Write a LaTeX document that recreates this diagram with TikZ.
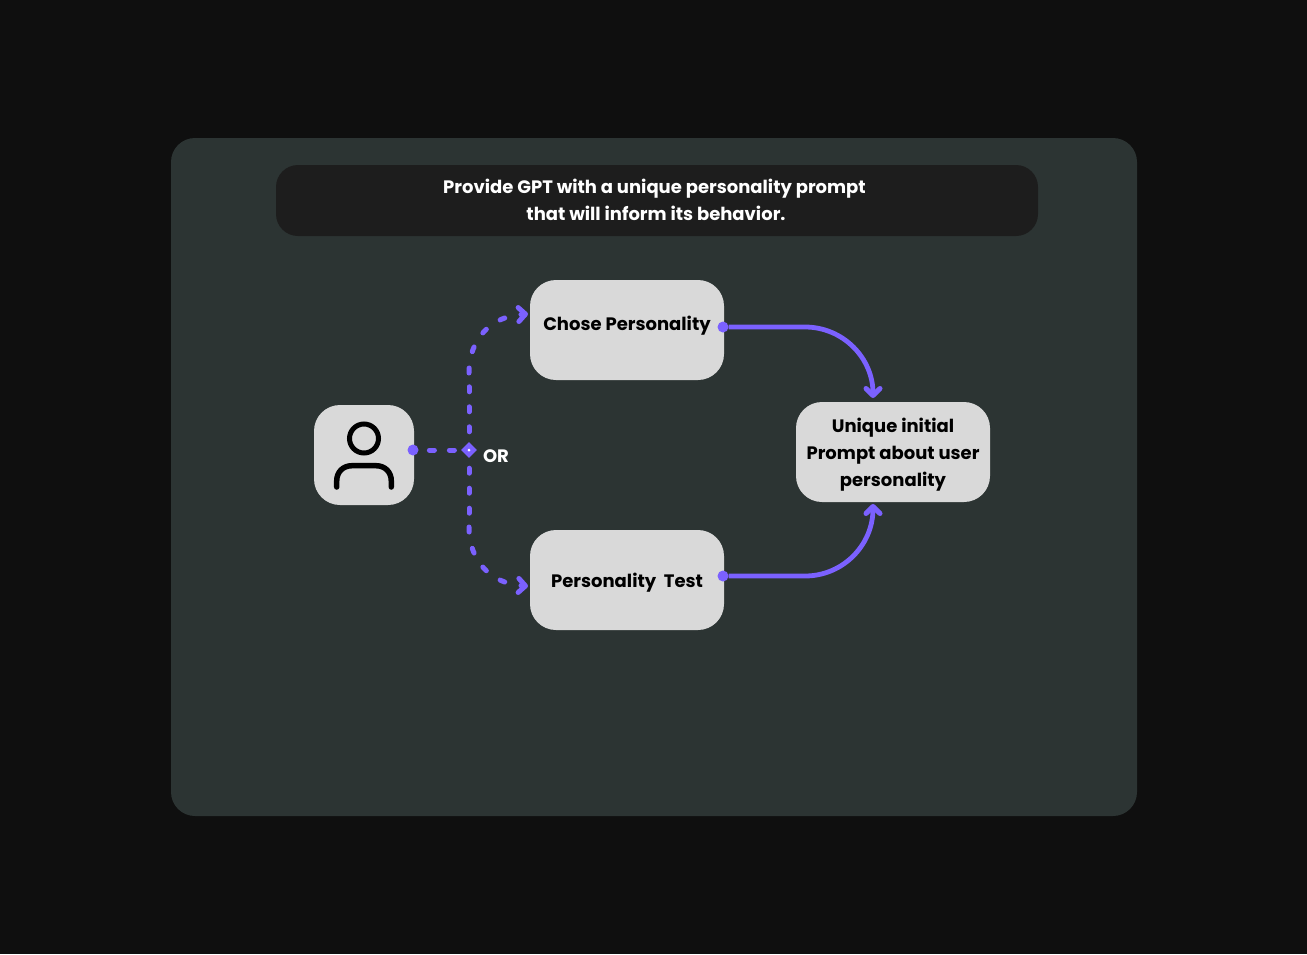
\documentclass[tikz,border=0pt]{standalone}
\usepackage{fontspec}
\setmainfont{Poppins}
\usetikzlibrary{arrows.meta}
\usetikzlibrary{shapes.geometric}
\definecolor{pagebg}{HTML}{0F0F0F}
\definecolor{panelbg}{HTML}{2C3433}
\definecolor{titlebg}{HTML}{1D1D1D}
\definecolor{boxbg}{HTML}{D9D9D9}
\definecolor{linkcol}{HTML}{7B61FF}
\tikzset{
  panelbox/.style={fill=panelbg, rounded corners=24pt, minimum width=966pt, minimum height=678pt},
  titlebox/.style={fill=titlebg, rounded corners=22pt, minimum width=762pt, minimum height=71pt},
  stepbox/.style={fill=boxbg, rounded corners=26pt, minimum width=194pt, minimum height=100pt},
  userbox/.style={fill=boxbg, rounded corners=26pt, minimum size=100pt},
  boldtext/.style={text=black, align=center, font=\fontsize{18}{27}\selectfont\bfseries},
  portdot/.style={circle, fill=linkcol, inner sep=0pt, minimum size=11pt},
  orpoint/.style={diamond, fill=linkcol, inner sep=0pt, minimum size=16pt},
  dashline/.style={draw=linkcol, line width=5pt, line cap=round, dash pattern=on 5pt off 15pt},
  dashcurve/.style={draw=linkcol, line width=5pt, line cap=round, dash pattern=on 5pt off 16.7pt, -{Straight Barb[length=7pt,width=14pt,round,line width=5pt]}},
  solidlink/.style={draw=linkcol, line width=4.8pt, -{Straight Barb[length=7pt,width=14pt,round,line width=5pt]}},
  iconline/.style={draw=black, line width=5.5pt, line cap=round}
}
\begin{document}
\begin{tikzpicture}[x=1pt, y=-1pt]
        \useasboundingbox[fill=pagebg] (0, 0) rectangle (1307, 954);

        % Nodes
        \node[panelbox] (panel) at (654, 477) {};
        \node[titlebox] (title) at (657, 200.5) {};
        \node[boldtext, text=white] (titletext) at (654.5, 199.5) {Provide GPT with a unique personality prompt\\\hspace*{3pt}that will inform its behavior.};
        \node[userbox] (user) at (364, 455) {};
        \node[stepbox] (chose) at (627, 330) {};
        \node[stepbox] (test) at (627, 580) {};
        \node[stepbox] (prompt) at (893, 452) {};
        \node[boldtext] (chosetext) at (627, 326) {Chose Personality};
        \node[boldtext] (testtext) at (627, 583) {Personality\ \ Test};
        \node[boldtext] (prompttext) at (893, 455) {Unique initial\\Prompt about user\\personality};
        \node[text=white, font=\fontsize{18}{20}\selectfont\bfseries] (ortext) at (496, 456) {OR};
        \node[portdot] (userport) at (413, 450) {};
        \node[orpoint] (orjoin) at (469, 450) {};
        \node[circle, fill=white, inner sep=0pt, minimum size=3pt] (orcentre) at (469, 450) {};
        \node[portdot] (choseport) at (723, 327) {};
        \node[portdot] (testport) at (723, 576) {};
        \coordinate (upbend) at (469, 373);
        \coordinate (downbend) at (469, 527);
        \coordinate (chosein) at (528, 314);
        \coordinate (testin) at (528, 586);
        \coordinate (promptup) at (873, 398);
        \coordinate (promptdown) at (873, 504);

        % Icon
        \node[circle, draw=black, line width=5pt, inner sep=0pt, minimum size=29pt] (head) at (364, 438.5) {};
        \coordinate (bodyleft) at (336.7, 487);
        \coordinate (bodyright) at (391.3, 487);
        \draw[iconline] (bodyleft) -- (336.7, 481) .. controls (336.7, 472) and (343, 465.7) .. (352, 465.7) -- (376, 465.7) .. controls (385, 465.7) and (391.3, 472) .. (391.3, 481) -- (bodyright);

        % Lines
        \draw[dashline, dash phase=9.3pt] (userport) -- (orjoin);
        \draw[dashline, dash phase=10pt] (orjoin) -- (upbend);
        \draw[dashline, dash phase=10pt] (orjoin) -- (downbend);
        \draw[dashcurve] (upbend) .. controls (469, 338) and (492, 316) .. (chosein);
        \draw[dashcurve] (downbend) .. controls (469, 562) and (492, 584) .. (testin);
        \draw[solidlink] (choseport) -- (805, 327) .. controls (843, 327) and (873, 358) .. (promptup);
        \draw[solidlink] (testport) -- (805, 576) .. controls (843, 576) and (873, 545) .. (promptdown);
\end{tikzpicture}
\end{document}
